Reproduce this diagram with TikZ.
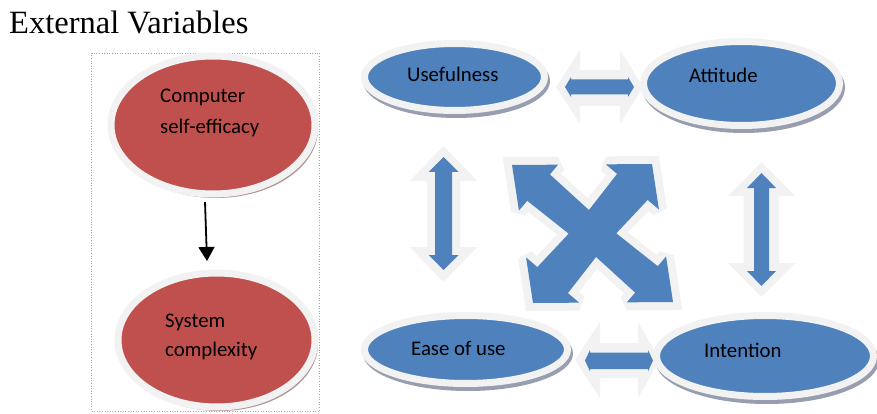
\documentclass[tikz,border=0pt]{standalone}
\usepackage{fontspec}
\setmainfont{Liberation Serif}
\newfontfamily\calfont{Carlito}
\usetikzlibrary{shapes.geometric,arrows.meta}
\definecolor{obl}{HTML}{4F81BD}
\definecolor{ord}{HTML}{C0504D}
\definecolor{ringc}{HTML}{F2F2F2}
\definecolor{shb}{RGB}{150,158,176}
\definecolor{shr}{RGB}{178,150,150}
\tikzset{
  ell/.style={ellipse, draw=ringc, line width=7pt, inner sep=0pt},
  blueell/.style={ell, fill=obl},
  redell/.style={ell, fill=ord},
  lbl/.style={anchor=base west, inner sep=0pt, font=\calfont\fontsize{20.8}{31}\selectfont},
  garrow/.style={fill=ringc},
  barrow/.style={fill=obl},
}
\begin{document}
\begin{tikzpicture}[x=1pt,y=-1pt]
\useasboundingbox (0,0) rectangle (877,414);
% title
\node[anchor=base west, inner sep=0pt, font=\fontsize{32.5}{38}\selectfont] (title) at (9,33.5) {External Variables};
% dotted frame
\node[draw=gray!70, dotted, line width=0.6pt, minimum width=228pt, minimum height=358pt, inner sep=0pt] (frame) at (205.5,232) {};

% double arrows (gray halos then blue)
\fill[garrow] (556,87) -- (580,50) -- (580,70) -- (620,70) -- (620,50) -- (643,87) -- (620,124) -- (620,106) -- (580,106) -- (580,124) -- cycle;
\fill[barrow] (565,87) -- (571,77) -- (571,79.5) -- (628,79.5) -- (628,77) -- (634,87) -- (628,97) -- (628,94.5) -- (571,94.5) -- (571,97) -- cycle;

\fill[garrow] (575,360) -- (600,322) -- (600,343) -- (638,343) -- (638,322) -- (660,360) -- (638,398) -- (638,378) -- (600,378) -- (600,398) -- cycle;
\fill[barrow] (585,360.5) -- (590,350) -- (590,352.5) -- (648,352.5) -- (648,350) -- (653,360.5) -- (648,371.5) -- (648,369) -- (590,369) -- (590,371.5) -- cycle;

\fill[garrow] (443.5,146) -- (477.5,181) -- (460,181) -- (460,247) -- (477.5,247) -- (443.5,282) -- (409.5,247) -- (427,247) -- (427,181) -- (409.5,181) -- cycle;
\fill[barrow] (443.5,157) -- (458.5,172) -- (452,172) -- (452,255) -- (458.5,255) -- (443.5,270) -- (428.5,255) -- (435,255) -- (435,172) -- (428.5,172) -- cycle;

\fill[garrow] (761.5,162) -- (795,196) -- (779,196) -- (779,263) -- (795,263) -- (761.5,297) -- (728,263) -- (743.5,263) -- (743.5,196) -- (728,196) -- cycle;
\fill[barrow] (761.5,173) -- (776,188) -- (769,188) -- (769,271) -- (776,271) -- (761.5,286) -- (747,271) -- (754,271) -- (754,188) -- (747,188) -- cycle;

% quad arrow
\begin{scope}[shift={(512pt,-165pt)}, x={(140pt,1pt)}, y={(21pt,-138pt)}]
\def\quadpath{(0,0) -- (0.33,0) -- (0.26,0.07) -- (0.5,0.33) -- (0.74,0.07) -- (0.67,0) -- (1,0) -- (1,0.33) -- (0.93,0.26) -- (0.67,0.5) -- (0.93,0.74) -- (1,0.67) -- (1,1) -- (0.67,1) -- (0.74,0.93) -- (0.5,0.67) -- (0.26,0.93) -- (0.33,1) -- (0,1) -- (0,0.67) -- (0.07,0.74) -- (0.33,0.5) -- (0.07,0.26) -- (0,0.33) -- cycle}
\filldraw[fill=ringc, draw=ringc, line width=16pt, line join=miter, miter limit=2] \quadpath;
\fill[obl] \quadpath;
\end{scope}

% shadows
\fill[shr] (216,129) ellipse [x radius=102, y radius=69];
\fill[shr] (219.5,344) ellipse [x radius=98.5, y radius=67];
\fill[shb] (456.5,81) ellipse [x radius=93.5, y radius=37];
\fill[shb] (743.5,87.5) ellipse [x radius=101.5, y radius=45.5];
\fill[shb] (468,353.5) ellipse [x radius=105, y radius=37.5];
\fill[shb] (767,360) ellipse [x radius=112, y radius=44];

% ellipses
\node[redell, minimum width=204pt, minimum height=138pt] (cse) at (213,125) {};
\node[redell, minimum width=197pt, minimum height=134pt] (sc) at (216.5,340) {};
\node[blueell, minimum width=180pt, minimum height=67pt] (use) at (454.5,77) {};
\node[blueell, minimum width=196pt, minimum height=84pt] (att) at (741.5,83.5) {};
\node[blueell, minimum width=203pt, minimum height=68pt] (eou) at (466,349.5) {};
\node[blueell, minimum width=217pt, minimum height=81pt] (int) at (765,356) {};

% labels
\node[lbl] (cse1) at (160,103) {Computer};
\node[lbl] (cse2) at (160,134) {self-efficacy};
\node[lbl] (sc1) at (165,327) {System};
\node[lbl] (sc2) at (165,356) {complexity};
\node[lbl] (uset) at (407,82) {Usefulness};
\node[lbl] (attt) at (689,83) {Attitude};
\node[lbl] (eout) at (411,355) {Ease of use};
\node[lbl] (intt) at (704,357) {Intention};

% arrow
\coordinate (a1) at (205,202);
\coordinate (a2) at (207,261);
\draw[line width=1.8pt, -{Triangle[width=16pt,length=14pt]}] (a1) -- (a2);
\end{tikzpicture}
\end{document}
